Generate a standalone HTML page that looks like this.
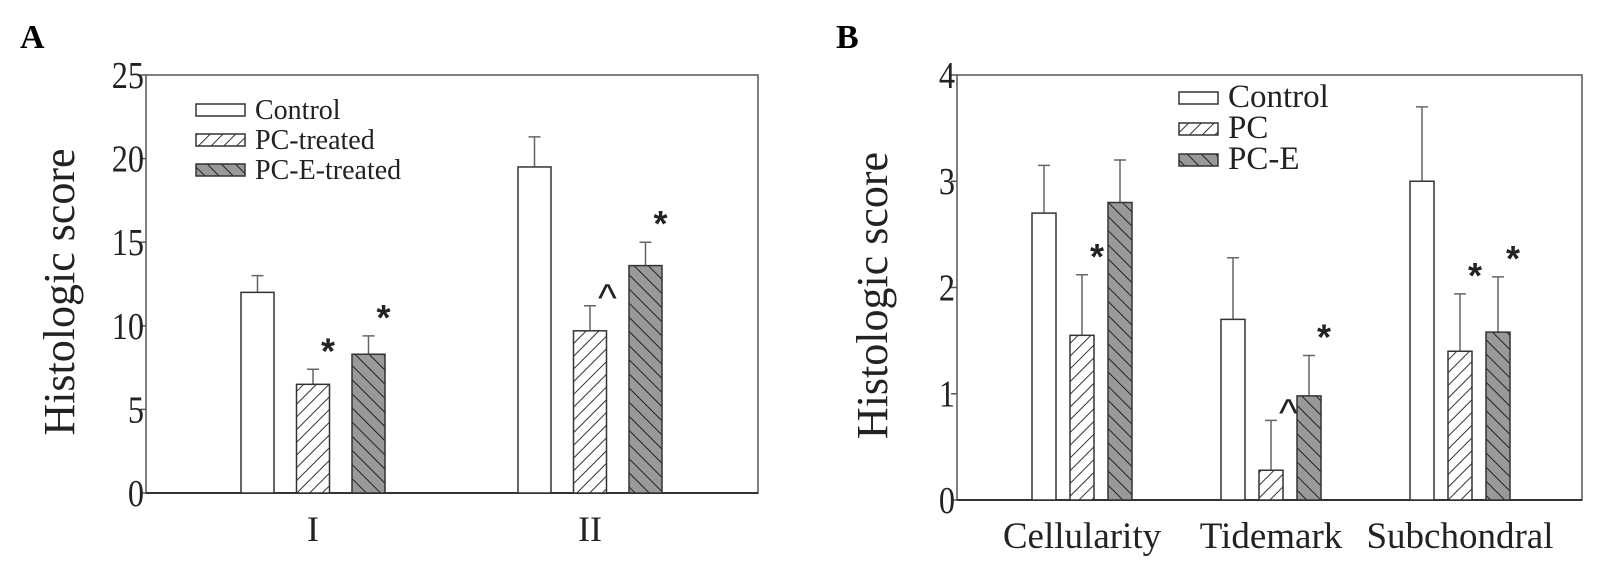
<!DOCTYPE html>
<html><head><meta charset="utf-8"><style>
body{margin:0;background:#fff}
svg{display:block;font-family:"Liberation Serif",serif}
</style></head><body>
<svg id="chart" width="1599" height="575" viewBox="0 0 1599 575" xmlns="http://www.w3.org/2000/svg">
<defs>
<pattern id="hatchPC" patternUnits="userSpaceOnUse" width="9" height="9" patternTransform="rotate(45)">
<rect width="9" height="9" fill="#fff"/><line x1="0" y1="0" x2="0" y2="9" stroke="#333" stroke-width="2"/></pattern>
<pattern id="hatchPCE" patternUnits="userSpaceOnUse" width="10" height="10" patternTransform="rotate(-45)">
<rect width="10" height="10" fill="#999"/><line x1="0" y1="0" x2="0" y2="10" stroke="#222" stroke-width="2"/></pattern>
</defs>
<g id="gA"></g>
<g id="gB"></g>
</svg>
<script>
const catsA=["I","II"];
const ctrlA=[12,19.5], ctrlAErr=[13,21.3];
const pcA=[6.5,9.7], pcAErr=[7.4,11.2];
const pceA=[8.3,13.6], pceAErr=[9.4,15.0];
const marksA=[["","*","*"],["","^","*"]];
const ticksA=[0,5,10,15,20,25];
const legendA=["Control","PC-treated","PC-E-treated"];

const catsB=["Cellularity","Tidemark","Subchondral"];
const ctrlB=[2.7,1.7,3.0], ctrlBErr=[3.15,2.28,3.7];
const pcB=[1.55,0.28,1.4], pcBErr=[2.12,0.75,1.94];
const pceB=[2.8,0.98,1.58], pceBErr=[3.2,1.36,2.1];
const marksB=[["","*",""],["","^","*"],["","*","*"]];
const ticksB=[0,1,2,3,4];
const legendB=["Control","PC","PC-E"];

const NS="http://www.w3.org/2000/svg";
function el(p,t,a,txt){const e=document.createElementNS(NS,t);for(const k in a)e.setAttribute(k,a[k]);if(txt!==undefined)e.textContent=txt;p.appendChild(e);return e;}
const fills=["#fff","url(#hatchPC)","url(#hatchPCE)"];

function panel(g,o){
  const y=v=>o.bottom-(v/o.max)*(o.bottom-o.top);
  let t=el(g,"text",{x:o.letterX,y:48,"font-size":34,"font-weight":"bold"},o.letter);
  
  
  let r=el(g,"rect",{x:o.left,y:o.top,width:o.right-o.left,height:o.bottom-o.top,fill:"none",stroke:"#555","stroke-width":1.5});
  
  
  el(g,"line",{x1:o.left,x2:o.right,y1:o.bottom,y2:o.bottom,stroke:"#333","stroke-width":2});
  o.ticks.forEach(v=>{
    el(g,"line",{x1:o.left-6,x2:o.left,y1:y(v),y2:y(v),stroke:"#555","stroke-width":1.5});
    let tl=el(g,"text",{x:o.left-2,y:y(v)+13,"font-size":38,"text-anchor":"end",fill:"#222",transform:`translate(${o.left-2},0) scale(0.85,1) translate(${-(o.left-2)},0)`},String(v));
    
    
  });
  let yt=el(g,"text",{transform:`translate(${o.ytX},${(o.top+o.bottom)/2+8}) rotate(-90)`,"font-size":44,"text-anchor":"middle",fill:"#222"},"Histologic score");
  
  
  const series=[[o.c,o.ce],[o.p,o.pe],[o.e,o.ee]];
  o.cats.forEach((c,i)=>{
    const gx=o.gx0+i*o.gstep;
    series.forEach((s,j)=>{
      const x=gx+j*o.bstep, v=s[0][i], ev=s[1][i];
      let eb=el(g,"path",{d:`M${x+o.bw/2},${y(v)} V${y(ev)} M${x+o.bw/2-6},${y(ev)} H${x+o.bw/2+6}`,stroke:"#666","stroke-width":1.5,fill:"none"});
      
      
      let b=el(g,"rect",{x:x,y:y(v),width:o.bw,height:o.bottom-y(v),fill:fills[j],stroke:"#333","stroke-width":1.5});
      
      
      const m=o.marks[i][j];
      if(m){let mt=el(g,"text",{x:x+o.bw/2+8,y:y(ev)+(m=="*"?-6:6),"font-size":m=="*"?36:40,"font-weight":m=="*"?"bold":"normal","font-family":"Liberation Sans, sans-serif",fill:"#222"},m);
        
        }
    });
    let xl=el(g,"text",{x:gx+o.bstep+o.bw/2,y:o.bottom+48,"font-size":o.xFont,"text-anchor":"middle",fill:"#222"},c);
    
    
  });
  o.legend.forEach((l,j)=>{
    const ly=o.legY+j*o.legStep;
    let lb=el(g,"rect",{x:o.legX,y:ly-12,width:o.legW,height:12,fill:fills[j],stroke:"#333","stroke-width":1.5});
    
    
    let lt=el(g,"text",{x:o.legX+o.legW+10,y:ly+3,"font-size":o.legFont,fill:"#222"},l);
    
    
  });
}
panel(document.getElementById("gA"),{letter:"A",letterX:20,left:146,right:758,top:75,bottom:493,max:25,ticks:ticksA,ytX:74,
  cats:catsA,c:ctrlA,ce:ctrlAErr,p:pcA,pe:pcAErr,e:pceA,ee:pceAErr,marks:marksA,gx0:241,gstep:277,bstep:55.5,bw:33,xFont:36,
  legend:legendA,legX:196,legW:49,legY:116,legStep:30,legFont:28});
panel(document.getElementById("gB"),{letter:"B",letterX:836,left:957,right:1582,top:75,bottom:500,max:4,ticks:ticksB,ytX:887,
  cats:catsB,c:ctrlB,ce:ctrlBErr,p:pcB,pe:pcBErr,e:pceB,ee:pceBErr,marks:marksB,gx0:1032,gstep:189,bstep:38,bw:24,xFont:37,
  legend:legendB,legX:1179,legW:39,legY:104,legStep:31,legFont:33});
</script>
</body></html>
